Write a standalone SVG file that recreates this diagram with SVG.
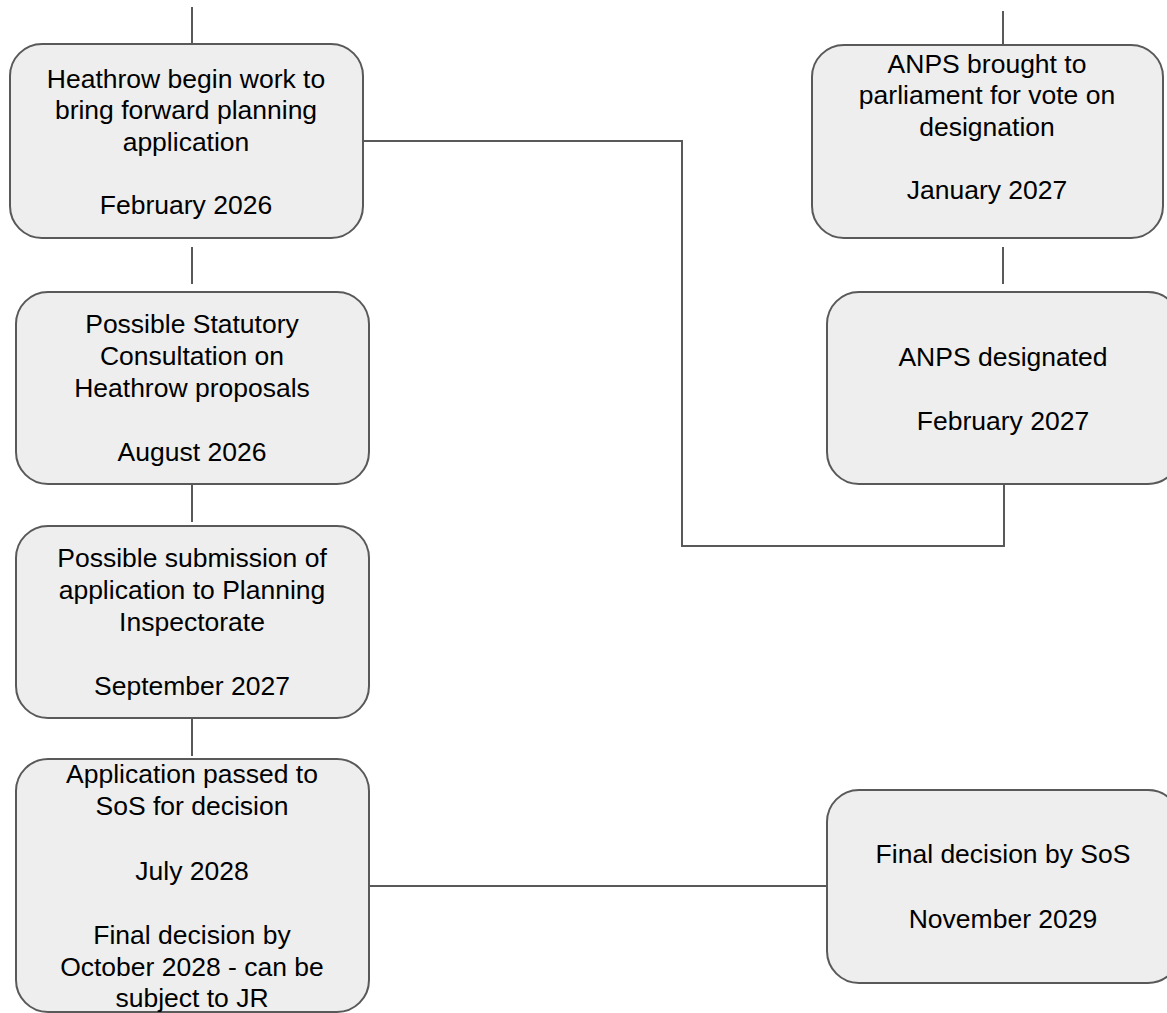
<svg xmlns="http://www.w3.org/2000/svg" width="1167" height="1013" viewBox="0 0 1167 1013">
<style>
.box{fill:#eeeeee;stroke:#595959;stroke-width:2}
.lbl{font-family:"Liberation Sans",Arial,sans-serif;font-size:26.5px;fill:#000000;text-anchor:middle}
.con{fill:none;stroke:#595959;stroke-width:2}
</style>
<rect width="1167" height="1013" fill="#ffffff"/>
<g id="connectors">
<path class="con" d="M192 7V44"/>
<path class="con" d="M192 247V284"/>
<path class="con" d="M192 485V522"/>
<path class="con" d="M192 719V756"/>
<path class="con" d="M1003 11V45"/>
<path class="con" d="M1003 247V284"/>
<path class="con" d="M363 141H682V546H1004"/>
<path class="con" d="M1004 484V547"/>
<path class="con" d="M369 886H827"/>
</g>
<g id="node1">
<rect class="box" x="10" y="44" width="353" height="194" rx="32"/>
<text class="lbl"><tspan x="186" y="88">Heathrow begin work to</tspan><tspan x="186" y="119">bring forward planning</tspan><tspan x="186" y="151">application</tspan><tspan x="186" y="214">February 2026</tspan></text>
</g>
<g id="node2">
<rect class="box" x="16" y="292" width="353" height="192" rx="32"/>
<text class="lbl"><tspan x="192" y="333">Possible Statutory</tspan><tspan x="192" y="365">Consultation on</tspan><tspan x="192" y="397">Heathrow proposals</tspan><tspan x="192" y="461">August 2026</tspan></text>
</g>
<g id="node3">
<rect class="box" x="16" y="526" width="353" height="192" rx="32"/>
<text class="lbl"><tspan x="192" y="567">Possible submission of</tspan><tspan x="192" y="599">application to Planning</tspan><tspan x="192" y="631">Inspectorate</tspan><tspan x="192" y="695">September 2027</tspan></text>
</g>
<g id="node4">
<rect class="box" x="16" y="759" width="353" height="253" rx="32"/>
<text class="lbl"><tspan x="192" y="783">Application passed to</tspan><tspan x="192" y="815">SoS for decision</tspan><tspan x="192" y="880">July 2028</tspan><tspan x="192" y="944">Final decision by</tspan><tspan x="192" y="976">October 2028 - can be</tspan><tspan x="192" y="1007">subject to JR</tspan></text>
</g>
<g id="node5">
<rect class="box" x="812" y="45" width="351" height="193" rx="32"/>
<text class="lbl"><tspan x="987" y="73">ANPS brought to</tspan><tspan x="987" y="104">parliament for vote on</tspan><tspan x="987" y="136">designation</tspan><tspan x="987" y="199">January 2027</tspan></text>
</g>
<g id="node6">
<rect class="box" x="827" y="292" width="353" height="192" rx="32"/>
<text class="lbl"><tspan x="1003" y="366">ANPS designated</tspan><tspan x="1003" y="430">February 2027</tspan></text>
</g>
<g id="node7">
<rect class="box" x="827" y="790" width="353" height="193" rx="32"/>
<text class="lbl"><tspan x="1003" y="863">Final decision by SoS</tspan><tspan x="1003" y="928">November 2029</tspan></text>
</g>
</svg>
